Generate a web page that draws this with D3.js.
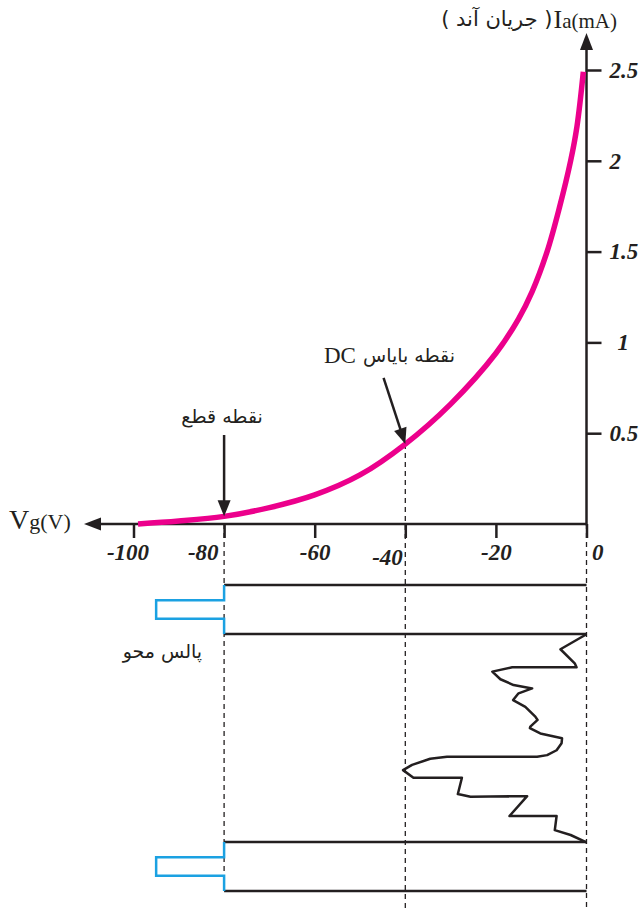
<!DOCTYPE html>
<html>
<head>
<meta charset="utf-8">
<script src="https://cdn.jsdelivr.net/npm/d3@7"></script>
<style>
  body { margin: 0; background: #fff; }
  svg { display: block; }
  .num { font-family: "Liberation Serif", "Times New Roman", serif; font-weight: bold; font-style: italic; font-size: 23px; fill: #231f20; }
  .fa { font-family: "DejaVu Sans", sans-serif; fill: #231f20; }
  .lat { font-family: "Liberation Serif", "Times New Roman", serif; fill: #231f20; }
</style>
</head>
<body>
<div id="chart"></div>
<script>
// ticks
var xTicks = [-100, -80, -60, -40, -20, 0];
var yTicks = [0.5, 1, 1.5, 2, 2.5];

// tube characteristic Ia (mA) against Vg (V)
var curveVg = [-99, -90, -80, -70, -60, -50, -40, -30, -20, -15, -12, -8.7, -6, -3.5, -2.1, -0.7];
var curveIa = [0, 0.016, 0.042, 0.09, 0.16, 0.27, 0.44, 0.66, 0.94, 1.13, 1.28, 1.5, 1.74, 2.0, 2.19, 2.49];

// grid signal below the axis, time runs downwards (0..10)
var rowT = [0, 1.6, 8.4, 10];
var pulseVg = [-80, -80, -95, -95, -80, -80];
var pulse1T = [0, 0.5, 0.5, 1.1, 1.1, 1.6];
var pulse2T = [8.4, 8.9, 8.9, 9.5, 9.5, 10];

var waveVg = [0, -5.75, -2.6, -2.2, -16.4, -20.8, -19.0, -16.1, -12.0, -15.0, -16.2, -13.5, -11.3, -10.8, -12.4, -12.5, -10.2,
              -5.4, -5.5, -6.6, -8.7, -10.9, -30.8, -34.5, -38.5, -40.5, -38.2, -27.5, -28.4, -25.6, -13.1, -17.0, -6.6,
              -7.0, -3.5, 0];
var waveT  = [1.61, 2.10, 2.56, 2.69, 2.69, 2.83, 3.08, 3.27, 3.38, 3.54, 3.76, 3.98, 4.30, 4.41, 4.63, 4.68, 4.85,
              5.01, 5.17, 5.40, 5.56, 5.61, 5.61, 5.68, 5.88, 6.05, 6.30, 6.30, 6.83, 6.92, 6.90, 7.55, 7.55,
              8.01, 8.17, 8.41];

// dashed guides
var guideVg = [-80, -40, 0];
var guideIa = [0, 0.44, 0];
var guideT = [10, 10.65, 10.65];

// annotation arrows
var annoText = ["نقطه قطع", "نقطه بایاس"];
var annoFrom = [[-80, 0.49], [-44.8, 0.805]];
var annoTo = [[-80, 0.042], [-40, 0.44]];

var W = 644, H = 911;
var ink = "#231f20";

var svg = d3.select("#chart").append("svg")
    .attr("width", W)
    .attr("height", H);

svg.append("rect").attr("width", W).attr("height", H).attr("fill", "#fff");

var x = d3.scaleLinear().domain([-100, 0]).range([133.5, 586.5]);
var y = d3.scaleLinear().domain([0, 2.5]).range([524, 70]);
var t = d3.scaleLinear().domain([0, 10]).range([585, 891]);

// dashed guides
guideVg.forEach(function (v, i) {
    svg.append("line")
        .attr("x1", x(v)).attr("x2", x(v))
        .attr("y1", y(guideIa[i])).attr("y2", t(guideT[i]))
        .attr("stroke", ink).attr("stroke-width", 1.3)
        .attr("stroke-dasharray", "5,4");
});

// axis lines with arrows
svg.append("line")
    .attr("x1", x(0)).attr("x2", 100).attr("y1", y(0)).attr("y2", y(0))
    .attr("stroke", ink).attr("stroke-width", 2.5);
svg.append("path")
    .attr("d", "M84," + y(0) + "L101," + (y(0) - 6.5) + "L101," + (y(0) + 6.5) + "Z")
    .attr("fill", ink);
svg.append("line")
    .attr("x1", x(0)).attr("x2", x(0)).attr("y1", y(0) + 1.2).attr("y2", 49)
    .attr("stroke", ink).attr("stroke-width", 2.5);
svg.append("path")
    .attr("d", "M" + x(0) + ",33L" + (x(0) - 6.5) + ",50L" + (x(0) + 6.5) + ",50Z")
    .attr("fill", ink);

// x axis ticks
var gx = svg.append("g")
    .attr("transform", "translate(0," + y(0) + ")")
    .call(d3.axisBottom(x).tickValues(xTicks).tickSize(14).tickPadding(6).tickFormat(function (d) { return String(d); }));
gx.select(".domain").remove();
gx.selectAll(".tick line").attr("stroke", ink).attr("stroke-width", 2.5);
gx.selectAll(".tick text")
    .attr("class", "num")
    .attr("fill", null)
    .each(function (d) {
        var s = d3.select(this);
        if (d === -80) s.attr("text-anchor", "end").attr("x", -6);
        else if (d === -40) s.attr("text-anchor", "end").attr("x", -3).attr("y", 25);
        else if (d === 0) s.attr("text-anchor", "start").attr("x", 5);
        else if (d === -100) s.attr("x", -6);
    });
gx.attr("font-size", null).attr("font-family", null);

// y axis ticks
var gy = svg.append("g")
    .attr("transform", "translate(" + x(0) + ",0)")
    .call(d3.axisRight(y).tickValues(yTicks).tickSize(15).tickPadding(8).tickFormat(function (d) { return String(d); }));
gy.select(".domain").remove();
gy.selectAll(".tick line").attr("stroke", ink).attr("stroke-width", 2.5);
gy.selectAll(".tick text")
    .attr("class", "num")
    .attr("fill", null)
    .each(function (d) {
        if (d === 1) d3.select(this).attr("x", 31);
    });
gy.attr("font-size", null).attr("font-family", null);

// characteristic curve
var line = d3.line()
    .x(function (d) { return x(d[0]); })
    .y(function (d) { return y(d[1]); })
    .curve(d3.curveCatmullRom.alpha(0.5));
svg.append("path")
    .datum(d3.zip(curveVg, curveIa))
    .attr("d", line)
    .attr("fill", "none")
    .attr("stroke", "#ec008c")
    .attr("stroke-width", 5.5);

// annotation arrows
function arrow(x1, y1, x2, y2) {
    var dx = x2 - x1, dy = y2 - y1, L = Math.sqrt(dx * dx + dy * dy);
    var ux = dx / L, uy = dy / L, hl = 16, hw = 6.5;
    var bx = x2 - ux * hl, by = y2 - uy * hl;
    svg.append("line")
        .attr("x1", x1).attr("y1", y1).attr("x2", bx + ux * 2).attr("y2", by + uy * 2)
        .attr("stroke", ink).attr("stroke-width", 2.5);
    svg.append("path")
        .attr("d", "M" + x2 + "," + y2 + "L" + (bx - uy * hw) + "," + (by + ux * hw) +
              "L" + (bx + uy * hw) + "," + (by - ux * hw) + "Z")
        .attr("fill", ink);
}
annoFrom.forEach(function (f, i) {
    arrow(x(f[0]), y(f[1]), x(annoTo[i][0]), y(annoTo[i][1]));
});

// annotation labels
svg.append("text").attr("class", "fa")
    .attr("x", x(annoFrom[0][0]) - 2).attr("y", y(annoFrom[0][1]) - 12)
    .attr("text-anchor", "middle").attr("font-size", 19)
    .text(annoText[0]);

var dcFa = svg.append("text").attr("class", "fa")
    .attr("x", 455).attr("y", y(annoFrom[1][1]) - 16)
    .attr("text-anchor", "end").attr("font-size", 19)
    .text(annoText[1]);
var dcW = dcFa.node().getComputedTextLength();
svg.append("text").attr("class", "lat")
    .attr("x", 455 - dcW - 7).attr("y", y(annoFrom[1][1]) - 15)
    .attr("text-anchor", "end").attr("font-size", 23)
    .text("DC");

// trace lines of the grid signal
rowT.forEach(function (r) {
    svg.append("line")
        .attr("x1", x(-80)).attr("x2", x(0))
        .attr("y1", t(r)).attr("y2", t(r))
        .attr("stroke", ink).attr("stroke-width", 2.5);
});

var tline = d3.line()
    .x(function (d) { return x(d[0]); })
    .y(function (d) { return t(d[1]); });

[pulse1T, pulse2T].forEach(function (p) {
    svg.append("path")
        .datum(d3.zip(pulseVg, p))
        .attr("d", tline)
        .attr("fill", "none")
        .attr("stroke", "#1ba1e2")
        .attr("stroke-width", 2.5);
});

svg.append("path")
    .datum(d3.zip(waveVg, waveT))
    .attr("d", tline)
    .attr("fill", "none")
    .attr("stroke", ink)
    .attr("stroke-width", 2.5)
    .attr("stroke-linejoin", "round");

svg.append("text").attr("class", "fa")
    .attr("x", x(-80) - 22).attr("y", t(rowT[1]) + 24)
    .attr("text-anchor", "end").attr("font-size", 19)
    .text("پالس محو");

// axis titles
var vg = svg.append("text").attr("class", "lat").attr("x", 9).attr("y", 529);
vg.append("tspan").attr("font-size", 28).text("V");
vg.append("tspan").attr("font-size", 22).text("g(V)");

var ia = svg.append("text").attr("class", "lat")
    .attr("x", 617).attr("y", 28).attr("text-anchor", "end");
ia.append("tspan").attr("font-size", 26).text("I");
ia.append("tspan").attr("font-size", 21).text("a(mA)");
var iaW = ia.node().getComputedTextLength();
svg.append("text").attr("class", "fa")
    .attr("x", 617 - iaW - 1).attr("y", 26)
    .attr("text-anchor", "end").attr("font-size", 21)
    .attr("direction", "ltr")
    .text("( جریان آند )");
</script>
</body>
</html>
